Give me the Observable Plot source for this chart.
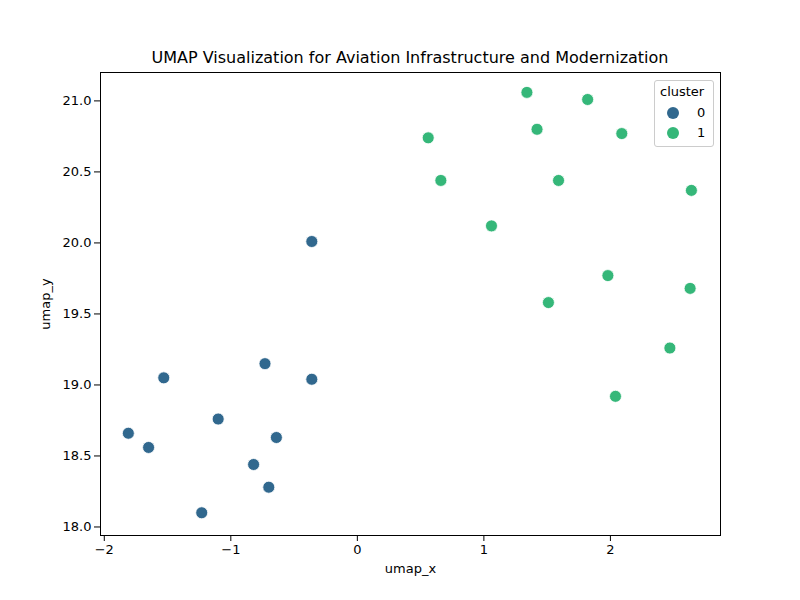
<!DOCTYPE html>
<html><head><meta charset="utf-8">
<script src="https://cdn.jsdelivr.net/npm/d3@7"></script>
<script src="https://cdn.jsdelivr.net/npm/@observablehq/plot@0.6"></script>
<style>
body{margin:0;background:#fff;font-family:"DejaVu Sans",sans-serif;}
#wrap{position:relative;width:800px;height:600px;}
#title{position:absolute;left:100px;width:620px;top:48px;text-align:center;font-size:16px;}
#legend{position:absolute;left:654px;top:80px;width:58px;height:65px;border:1px solid #ccc;border-radius:3px;background:#fff;font-size:13px;}
.li{position:absolute;left:12px;display:flex;align-items:center;}
.sw{width:12px;height:12px;border-radius:50%;margin-right:18px;}
</style></head><body>
<div id="wrap"><div id="chart"></div>
<div id="title">UMAP Visualization for Aviation Infrastructure and Modernization</div>
<div id="legend"><div style="position:absolute;left:5px;top:3px;">cluster</div>
<div class="li" style="top:24px"><div class="sw" style="background:#31688e"></div>0</div>
<div class="li" style="top:44px"><div class="sw" style="background:#35b779"></div>1</div></div>
</div>
<script>
const x0 = [-0.36,-0.73,-0.36,-1.53,-1.10,-1.81,-1.65,-0.64,-0.82,-0.70,-1.23];
const y0 = [20.01,19.15,19.04,19.05,18.76,18.66,18.56,18.63,18.44,18.28,18.10];
const x1 = [1.34,1.82,1.42,2.09,0.56,0.66,1.59,2.64,1.06,1.98,1.51,2.63,2.47,2.04];
const y1 = [21.06,21.01,20.80,20.77,20.74,20.44,20.44,20.37,20.12,19.77,19.58,19.68,19.26,18.92];
const colors = ["#31688e","#35b779"];
const data = [
  ...x0.map((x,i)=>({x,y:y0[i],c:0})),
  ...x1.map((x,i)=>({x,y:y1[i],c:1}))
];
const plot = Plot.plot({
  width:800,height:600,marginLeft:100,marginRight:80,marginTop:72,marginBottom:65,
  style:{fontSize:"13px",fontFamily:"DejaVu Sans, sans-serif",color:"#000"},
  x:{domain:[-2.03,2.87],ticks:[-2,-1,0,1,2],tickFormat:d3.format("d"),label:"umap_x",labelAnchor:"center",labelArrow:false,labelOffset:37},
  y:{domain:[17.94,21.2],ticks:d3.range(18,21.01,0.5),tickFormat:d3.format(".1f"),label:"umap_y",labelAnchor:"center",labelArrow:false,labelOffset:60},
  color:{domain:[0,1],range:colors},
  marks:[
    Plot.frame({stroke:"#000"}),
    Plot.dot(data,{x:"x",y:"y",fill:"c",r:6,stroke:"#fff",strokeWidth:0.8})
  ]
});
document.getElementById("chart").appendChild(plot);
</script></body></html>
